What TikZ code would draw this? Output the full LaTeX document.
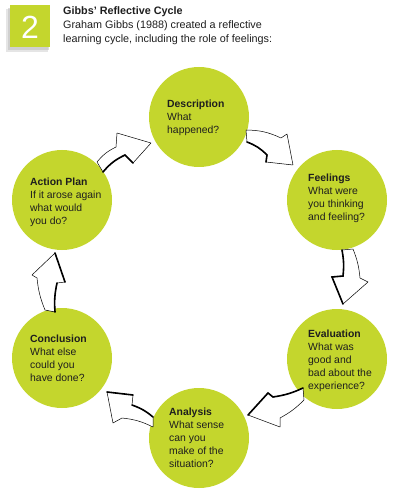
\documentclass[tikz,border=0pt]{standalone}
\usepackage{fontspec}
\setmainfont{Liberation Sans}
\definecolor{lime}{RGB}{196,214,45}
\definecolor{ink}{RGB}{30,30,30}
\tikzset{
  bubble/.style={circle, fill=lime, minimum size=100pt, inner sep=0pt},
  txt/.style={anchor=north west, align=left, inner sep=0pt, text=ink, font=\fontsize{10.4}{13}\selectfont},
  barrow/.style={fill=white, draw=black, line width=0.5pt, line join=round},
  shade/.style={draw=black, line width=1.6pt, line cap=round}
}
\begin{document}
\begin{tikzpicture}[x=1pt,y=-1pt]
\useasboundingbox (0,0) rectangle (400,494);
% header
\fill[gray!40, opacity=.5] (6,9) rectangle (48,52);
\fill[gray!55, opacity=.5] (8,8) rectangle (49,50);
\fill[lime] (10,5) rectangle (50,47);
\node[text=white, inner sep=0pt, font=\fontsize{32}{32}\selectfont] (num) at (30,27) {2};
\node[anchor=north west, align=left, inner sep=0pt, text=ink, font=\fontsize{10.8}{14.2}\selectfont] (title) at (63,6.2)
  {\textbf{Gibbs' Reflective Cycle}\\Graham Gibbs (1988) created a reflective\\learning cycle, including the role of feelings:};
% circles
\node[bubble] (desc) at (199,117) {};
\node[bubble] (feel) at (337,200) {};
\node[bubble] (eval) at (337,359) {};
\node[bubble] (anal) at (199,438) {};
\node[bubble] (conc) at (62,358) {};
\node[bubble] (act)  at (62,200) {};
% texts
\node[txt] (desct) at (167,99.5) {\textbf{Description}\\What\\happened?};
\node[txt] (feelt) at (308,173.5) {\textbf{Feelings}\\What were\\you thinking\\and feeling?};
\node[txt] (evalt) at (308,329.5) {\textbf{Evaluation}\\What was\\good and\\bad about the\\experience?};
\node[txt] (analt) at (169,407.5) {\textbf{Analysis}\\What sense\\can you\\make of the\\situation?};
\node[txt] (conct) at (30,334.5) {\textbf{Conclusion}\\What else\\could you\\have done?};
\node[txt] (actt)  at (30,177.5) {\textbf{Action Plan}\\If it arose again\\what would\\you do?};
% arrow 1: action plan -> description
\draw[barrow] (97,162) to[bend left=12] (116,147) -- (117,133) -- (151,143) -- (133,163) -- (125,155) to[bend right=12] (103,172) -- cycle;
\draw[shade] (133,163) -- (125,155) to[bend right=12] (103,172);
% arrow 2: description -> feelings
\draw[barrow] (246,130) to[bend left=12] (281,138) -- (287,134) -- (293,165) -- (266,162) -- (267,155) to[bend right=12] (247,142) -- cycle;
\draw[shade] (266,162) -- (267,155) to[bend right=12] (247,142);
% arrow 3: feelings -> evaluation
\draw[barrow] (342,250) to[bend left=8] (343,276) -- (332,277) -- (343,304) -- (368,282) -- (360,278) to[bend right=8] (353,249) -- cycle;
\draw[shade] (342,250) to[bend left=8] (343,276) -- (332,277) -- (343,304);
% arrow 4: evaluation -> analysis
\draw[barrow] (303,388) to[bend left=8] (273,397) -- (268,393) -- (248,415) -- (280,427) -- (280,418) to[bend right=8] (304,400) -- cycle;
\draw[shade] (303,388) to[bend left=8] (273,397) -- (268,393) -- (248,415);
% arrow 5: analysis -> conclusion
\draw[barrow] (107,392) -- (133,395) -- (132,405) to[bend left=10] (153,417) -- (153,427) to[bend right=10] (122,418) -- (113,423) -- cycle;
\draw[shade] (107,392) -- (133,395);
\draw[shade] (132,405) to[bend left=10] (153,417);
% arrow 6: conclusion -> action plan
\draw[barrow] (55,253) -- (65,282) -- (57,283) to[bend right=8] (55,312) -- (45,310) to[bend left=8] (37,278) -- (32,275) -- cycle;
\draw[shade] (55,253) -- (65,282);
\draw[shade] (57,283) to[bend right=8] (55,312);
\end{tikzpicture}
\end{document}
